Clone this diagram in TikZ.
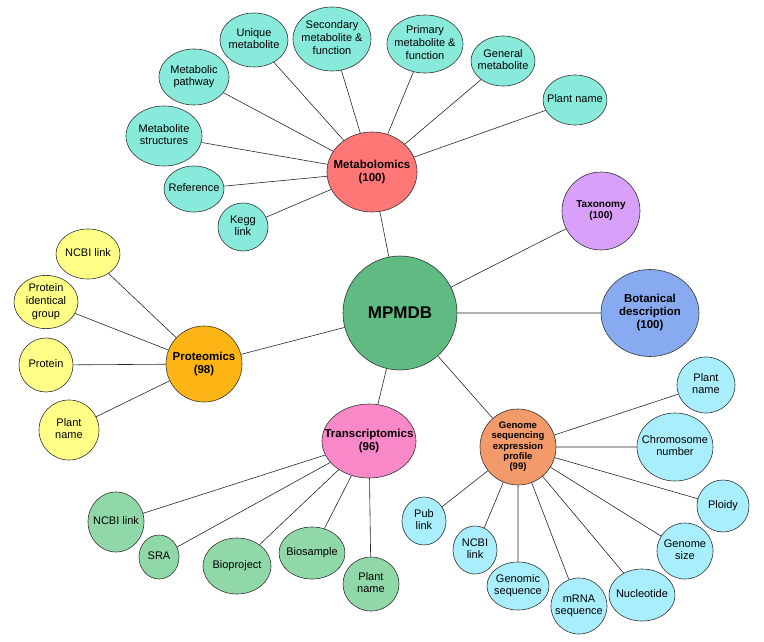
\documentclass[tikz,border=0pt]{standalone}
\usepackage{fontspec}
\setmainfont{Liberation Sans}
\usepackage{tikz}
\usetikzlibrary{shapes.geometric}

\definecolor{hubgreen}{HTML}{5FBB82}
\definecolor{metred}{HTML}{FF7777}
\definecolor{metleaf}{HTML}{88EADA}
\definecolor{taxpurple}{HTML}{D8A0F8}
\definecolor{botblue}{HTML}{88AAF0}
\definecolor{proorange}{HTML}{FDB515}
\definecolor{proleaf}{HTML}{FFFF88}
\definecolor{trapink}{HTML}{F888C8}
\definecolor{traleaf}{HTML}{90D8A8}
\definecolor{genorange}{HTML}{F29A6A}
\definecolor{genleaf}{HTML}{A8EEFC}

% text that does not widen its ellipse
\newcommand{\lbl}[1]{\makebox[0pt]{\begin{tabular}{@{}c@{}}#1\end{tabular}}}

\begin{document}
\begin{tikzpicture}[x=1pt,y=-1pt,
  every node/.style={ellipse,draw=black!80,line width=0.6pt,inner sep=0pt,
    font=\fontsize{11}{13.2}\selectfont},
  hub/.style={font=\fontsize{11.5}{13.8}\selectfont\bfseries},
  link/.style={draw=black!85,line width=0.6pt}]
    \useasboundingbox (0,0) rectangle (764,642);
    \renewcommand{\arraystretch}{0.95}

    % centre and main groups
    \node (mpm) [fill=hubgreen,minimum width=114,minimum height=114,font=\fontsize{17}{20}\selectfont\bfseries] at (400,313) {MPMDB};
    \node (met) [hub,fill=metred,minimum width=90,minimum height=80] at (372,172) {\lbl{Metabolomics\\(100)}};
    \node (tax) [hub,fill=taxpurple,minimum width=78,minimum height=78,font=\fontsize{10}{12}\selectfont\bfseries] at (601,211) {\lbl{Taxonomy\\(100)}};
    \node (bot) [hub,fill=botblue,minimum width=98,minimum height=87,font=\fontsize{11.5}{14}\selectfont\bfseries] at (650,313) {\lbl{Botanical\\description\\(100)}};
    \node (pro) [hub,fill=proorange,minimum width=76,minimum height=76] at (204,364) {\lbl{Proteomics\\(98)}};
    \node (tra) [hub,fill=trapink,minimum width=94,minimum height=74] at (369,441) {\lbl{Transcriptomics\\(96)}};
    \node (gen) [hub,fill=genorange,minimum width=76,minimum height=76,font=\fontsize{9.5}{11}\selectfont\bfseries] at (518,447) {\lbl{Genome\\sequencing\\expression\\profile\\(99)}};

    % metabolomics
    \node (m1) [fill=metleaf,minimum width=68,minimum height=54] at (254,40) {\lbl{Unique\\metabolite}};
    \node (m2) [fill=metleaf,minimum width=78,minimum height=64] at (332,39) {\lbl{Secondary\\metabolite \&\\function}};
    \node (m3) [fill=metleaf,minimum width=76,minimum height=58] at (425,44) {\lbl{Primary\\metabolite \&\\function}};
    \node (m4) [fill=metleaf,minimum width=64,minimum height=50] at (503,61) {\lbl{General\\metabolite}};
    \node (m5) [fill=metleaf,minimum width=64,minimum height=50] at (575,100) {\lbl{Plant name}};
    \node (m6) [fill=metleaf,minimum width=70,minimum height=56] at (194,77) {\lbl{Metabolic\\pathway}};
    \node (m7) [fill=metleaf,minimum width=76,minimum height=60] at (164,136) {\lbl{Metabolite\\structures}};
    \node (m8) [fill=metleaf,minimum width=60,minimum height=46] at (194,189) {\lbl{Reference}};
    \node (m9) [fill=metleaf,minimum width=50,minimum height=48] at (243,227) {\lbl{Kegg\\link}};

    % proteomics
    \node (p1) [fill=proleaf,minimum width=64,minimum height=50] at (88,254) {\lbl{NCBI link}};
    \node (p2) [fill=proleaf,minimum width=64,minimum height=52] at (46,302) {\lbl{Protein\\identical\\group}};
    \node (p3) [fill=proleaf,minimum width=54,minimum height=54] at (46,365) {\lbl{Protein}};
    \node (p4) [fill=proleaf,minimum width=60,minimum height=60] at (69,430) {\lbl{Plant\\name}};

    % transcriptomics
    \node (t1) [fill=traleaf,minimum width=56,minimum height=60] at (116,522) {\lbl{NCBI link}};
    \node (t2) [fill=traleaf,minimum width=40,minimum height=44] at (159,557) {\lbl{SRA}};
    \node (t3) [fill=traleaf,minimum width=68,minimum height=56] at (237,566) {\lbl{Bioproject}};
    \node (t4) [fill=traleaf,minimum width=66,minimum height=52] at (312,553) {\lbl{Biosample}};
    \node (t5) [fill=traleaf,minimum width=56,minimum height=54] at (371,584) {\lbl{Plant\\name}};

    % genome sequencing
    \node (g1) [fill=genleaf,minimum width=58,minimum height=56] at (706,385) {\lbl{Plant\\name}};
    \node (g2) [fill=genleaf,minimum width=76,minimum height=68] at (675,447) {\lbl{Chromosome\\number}};
    \node (g3) [fill=genleaf,minimum width=52,minimum height=52] at (723,506) {\lbl{Ploidy}};
    \node (g4) [fill=genleaf,minimum width=56,minimum height=56] at (685,551) {\lbl{Genome\\size}};
    \node (g5) [fill=genleaf,minimum width=66,minimum height=52] at (642,595) {\lbl{Nucleotide}};
    \node (g6) [fill=genleaf,minimum width=56,minimum height=56] at (579,606) {\lbl{mRNA\\sequence}};
    \node (g7) [fill=genleaf,minimum width=62,minimum height=48] at (518,586) {\lbl{Genomic\\sequence}};
    \node (g8) [fill=genleaf,minimum width=44,minimum height=48] at (475,550) {\lbl{NCBI\\link}};
    \node (g9) [fill=genleaf,minimum width=44,minimum height=48] at (424,521) {\lbl{Pub\\link}};

    \draw[link] (mpm)--(met) (mpm)--(tax) (mpm)--(bot) (mpm)--(pro) (mpm)--(tra) (mpm)--(gen);
    \draw[link] (met)--(m1) (met)--(m2) (met)--(m3) (met)--(m4) (met)--(m5)
                (met)--(m6) (met)--(m7) (met)--(m8) (met)--(m9);
    \draw[link] (pro)--(p1) (pro)--(p2) (pro)--(p3) (pro)--(p4);
    \draw[link] (tra)--(t1) (tra)--(t2) (tra)--(t3) (tra)--(t4) (tra)--(t5);
    \draw[link] (gen)--(g1) (gen)--(g2) (gen)--(g3) (gen)--(g4) (gen)--(g5)
                (gen)--(g6) (gen)--(g7) (gen)--(g8) (gen)--(g9);
\end{tikzpicture}
\end{document}
